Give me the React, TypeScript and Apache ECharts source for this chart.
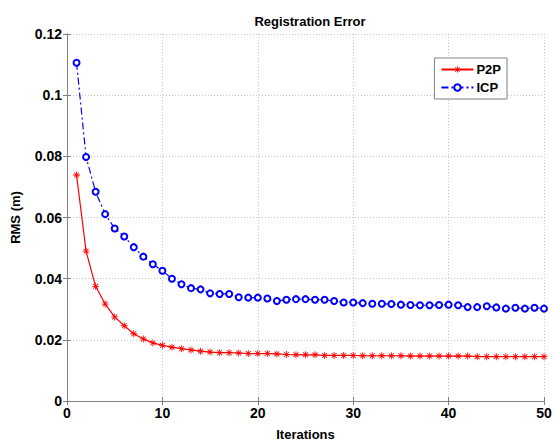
import React, { useEffect, useRef } from "react";
import * as echarts from "echarts";

const iterations = Array.from({ length: 50 }, (_, i) => i + 1);
const p2p = [
  0.0739, 0.049, 0.0375, 0.0317, 0.0275, 0.0246, 0.022, 0.0203, 0.019, 0.0182,
  0.0176, 0.0171, 0.0167, 0.0163, 0.016, 0.0158, 0.0158, 0.0157, 0.0155, 0.0155,
  0.0155, 0.0154, 0.0152, 0.0151, 0.0151, 0.0151, 0.0149, 0.0149, 0.0149, 0.0149,
  0.0148, 0.0148, 0.0148, 0.0148, 0.0148, 0.0147, 0.0147, 0.0147, 0.0147, 0.0147,
  0.0147, 0.0147, 0.0145, 0.0145, 0.0145, 0.0145, 0.0145, 0.0145, 0.0145, 0.0145,
];
const icp = [
  0.1106, 0.0798, 0.0684, 0.0611, 0.0564, 0.0538, 0.0503, 0.0472, 0.0447, 0.0426,
  0.04, 0.0382, 0.0369, 0.0365, 0.0352, 0.035, 0.035, 0.0339, 0.0338, 0.0338,
  0.0335, 0.0327, 0.0331, 0.0333, 0.0333, 0.0331, 0.0331, 0.0327, 0.0322, 0.0322,
  0.032, 0.0318, 0.0318, 0.0317, 0.0315, 0.0314, 0.0313, 0.0313, 0.0314, 0.0315,
  0.0313, 0.0307, 0.0307, 0.031, 0.0306, 0.0302, 0.0305, 0.0302, 0.0305, 0.0302,
];

const asterisk =
  "path://M-0.6,-5L0.6,-5L0.6,5L-0.6,5Z M-5,-0.6L5,-0.6L5,0.6L-5,0.6Z M-3.9,-3.1L-3.1,-3.9L3.9,3.1L3.1,3.9Z M3.1,-3.9L3.9,-3.1L-3.1,3.9L-3.9,3.1Z";

const FONT = "Liberation Sans";

export default function App() {
  const ref = useRef<HTMLDivElement>(null);
  useEffect(() => {
    if (!ref.current) return;
    const chart = echarts.init(ref.current, null, { renderer: "svg" });
    const axisLine = { show: true, lineStyle: { color: "#808080", width: 1 } };
    const tick = { show: true, inside: true, length: 4, lineStyle: { color: "#808080" } };
    chart.setOption({
      animation: false,
      backgroundColor: "#fff",
      title: {
        text: "Registration Error",
        left: 305,
        textAlign: "center",
        top: 10,
        textStyle: { fontFamily: FONT, fontWeight: "bold", fontSize: 13, color: "#000" },
      },
      grid: { left: 67, right: 14, top: 34, bottom: 36, containLabel: false },
      legend: {
        orient: "vertical",
        right: 51,
        top: 58,
        itemWidth: 32,
        itemHeight: 8,
        itemGap: 5,
        padding: [5, 6, 5, 6],
        backgroundColor: "#fff",
        borderColor: "#808080",
        borderWidth: 1,
        borderRadius: 0,
        textStyle: { fontFamily: FONT, fontWeight: "bold", fontSize: 13, color: "#000", padding: [0, 0, 0, -2] },
        data: ["P2P", "ICP"],
      },
      xAxis: [
        {
          type: "value",
          min: 0,
          max: 50,
          interval: 10,
          name: "Iterations",
          nameLocation: "middle",
          nameGap: 27,
          nameTextStyle: { fontFamily: FONT, fontWeight: "bold", fontSize: 13, color: "#000" },
          axisLine,
          axisTick: tick,
          axisLabel: { fontFamily: FONT, fontWeight: "bold", fontSize: 14, color: "#000", margin: 5 },
          splitLine: { show: true, lineStyle: { color: "#c8c8c8", type: [1, 2] } },
        },
        {
          type: "value",
          position: "top",
          min: 0,
          max: 50,
          interval: 10,
          axisLine,
          axisTick: tick,
          axisLabel: { show: false },
          splitLine: { show: false },
        },
      ],
      yAxis: [
        {
          type: "value",
          min: 0,
          max: 0.12,
          interval: 0.02,
          name: "RMS (m)",
          nameLocation: "middle",
          nameGap: 45,
          nameTextStyle: { fontFamily: FONT, fontWeight: "bold", fontSize: 13, color: "#000" },
          axisLine,
          axisTick: tick,
          axisLabel: { fontFamily: FONT, fontWeight: "bold", fontSize: 14, color: "#000", margin: 5 },
          splitLine: { show: true, lineStyle: { color: "#c8c8c8", type: [1, 2] } },
        },
        {
          type: "value",
          position: "right",
          min: 0,
          max: 0.12,
          interval: 0.02,
          axisLine,
          axisTick: tick,
          axisLabel: { show: false },
          splitLine: { show: false },
        },
      ],
      series: [
        {
          name: "P2P",
          type: "line",
          data: iterations.map((x, i) => [x, p2p[i]]),
          symbol: asterisk,
          symbolSize: 7,
          itemStyle: { color: "#ff0000" },
          lineStyle: { color: "#ff0000", width: 1.2 },
        },
        {
          name: "ICP",
          type: "line",
          data: iterations.map((x, i) => [x, icp[i]]),
          symbol: "emptyCircle",
          symbolSize: 6,
          itemStyle: { color: "#0000ff", borderColor: "#0000ff", borderWidth: 1 },
          lineStyle: { color: "#0000ff", width: 1.2, type: [7, 3, 2, 3] },
        },
      ],
    });
    return () => chart.dispose();
  }, []);
  return <div ref={ref} style={{ position: "fixed", left: 0, top: 0, width: 558, height: 446 }} />;
}
